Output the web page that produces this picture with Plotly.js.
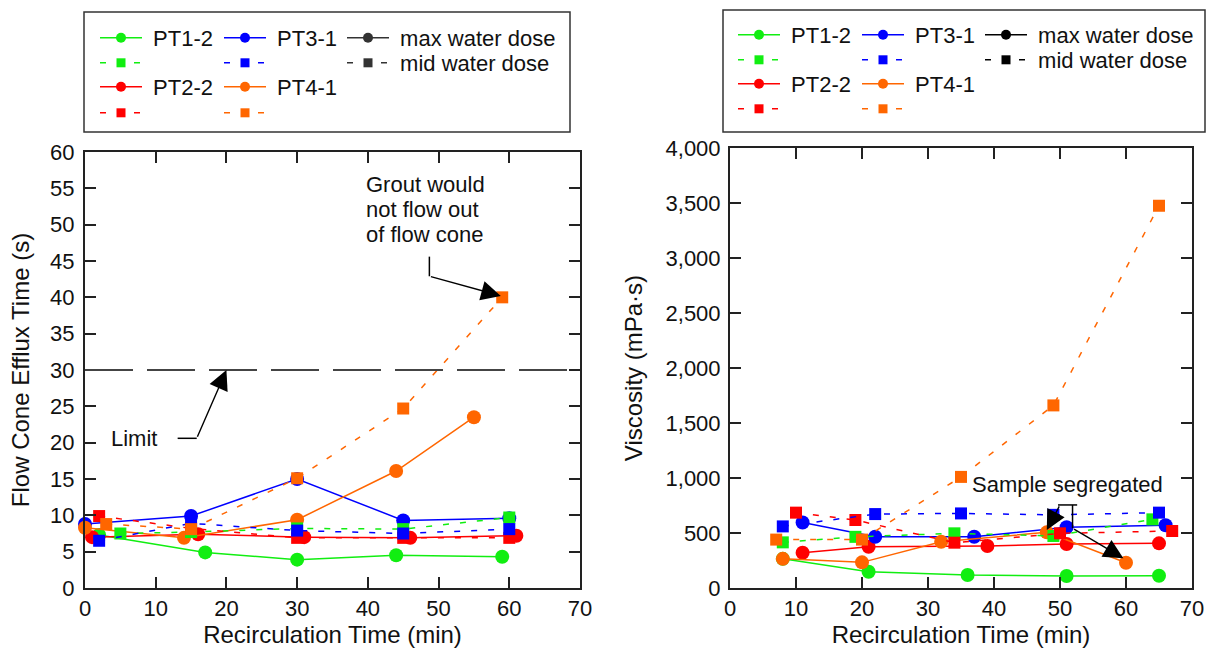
<!DOCTYPE html>
<html>
<head>
<meta charset="utf-8">
<script src="https://cdn.plot.ly/plotly-3.0.1.min.js"></script>
<style>html,body{margin:0;padding:0;background:#fff;}#chart{width:1209px;height:654px;}</style>
</head>
<body>
<div id="chart"></div>
<script>
// ---------- Left chart: Flow cone efflux time (s) ----------
const flow_PT12_max_t = [2, 17, 30, 44, 59];
const flow_PT12_max   = [7.3, 4.9, 3.9, 4.5, 4.3];
const flow_PT22_max_t = [1, 16, 31, 46, 61];
const flow_PT22_max   = [7.0, 7.4, 7.0, 6.9, 7.2];
const flow_PT31_max_t = [0, 15, 30, 45, 60];
const flow_PT31_max   = [8.8, 9.9, 15.0, 9.3, 9.6];
const flow_PT41_max_t = [0, 14, 30, 44, 55];
const flow_PT41_max   = [8.3, 6.9, 9.4, 16.1, 23.5];

const flow_PT12_mid_t = [5, 15, 30, 45, 60];
const flow_PT12_mid   = [7.5, 7.7, 8.2, 8.1, 9.7];
const flow_PT22_mid_t = [2, 15, 30, 45, 60];
const flow_PT22_mid   = [9.9, 8.2, 6.9, 6.9, 6.9];
const flow_PT31_mid_t = [2, 15, 30, 45, 60];
const flow_PT31_mid   = [6.5, 8.9, 7.9, 7.5, 8.1];
const flow_PT41_mid_t = [3, 15, 30, 45, 59];
const flow_PT41_mid   = [8.8, 8.1, 15.1, 24.7, 40.0];

const flowLimit = 30;

// ---------- Right chart: Viscosity (mPa·s) ----------
const visc_PT12_max_t = [8, 21, 36, 51, 65];
const visc_PT12_max   = [265, 148, 118, 109, 112];
const visc_PT22_max_t = [11, 21, 39, 51, 65];
const visc_PT22_max   = [320, 375, 382, 400, 406];
const visc_PT31_max_t = [11, 22, 37, 51, 66];
const visc_PT31_max   = [595, 466, 466, 552, 570];
const visc_PT41_max_t = [8, 20, 32, 48, 60];
const visc_PT41_max   = [265, 233, 421, 506, 230];

const visc_PT12_mid_t = [8, 19, 34, 49, 64];
const visc_PT12_mid   = [415, 465, 497, 473, 624];
const visc_PT22_mid_t = [10, 19, 34, 50, 67];
const visc_PT22_mid   = [685, 618, 412, 497, 518];
const visc_PT31_mid_t = [8, 22, 35, 49, 65];
const visc_PT31_mid   = [560, 672, 678, 665, 685];
const visc_PT41_mid_t = [7, 20, 35, 49, 65];
const visc_PT41_mid   = [440, 440, 1010, 1660, 3475];

const seriesNames = ['PT1-2', 'PT2-2', 'PT3-1', 'PT4-1'];
const doseNames = ['max water dose', 'mid water dose'];
const groutNote = ['Grout would', 'not flow out', 'of flow cone'];

// ---------- styling ----------
const FONT = 'Liberation Sans, Arial, Helvetica, sans-serif';
const C = {g: '#11ee11', r: '#ff0000', b: '#0000ff', o: '#ff6600'};
const DASH = '6px,11px';
const NB = '\u00a0';

const W = 1209, H = 654;
function px(X) { return X / W; }
function py(Y) { return 1 - Y / H; }

const legends = {};
let legendCount = 0;
function newLegend(X, Y) {
  legendCount += 1;
  const id = legendCount === 1 ? 'legend' : 'legend' + legendCount;
  legends[id] = {
    x: px(X), y: py(Y), xanchor: 'left', yanchor: 'middle', orientation: 'h',
    bgcolor: 'rgba(0,0,0,0)', borderwidth: 0, visible: true,
    font: {size: 22, family: FONT, color: '#111'},
    itemwidth: 42, itemsizing: 'trace', itemclick: false, itemdoubleclick: false
  };
  return id;
}

function tr(x, y, color, mid, xa, ya, name) {
  return {
    type: 'scatter', mode: 'lines+markers', x: x, y: y,
    xaxis: xa, yaxis: ya, cliponaxis: false, showlegend: false,
    name: name, hoverinfo: 'x+y+name',
    line: {color: color, width: 1.5, dash: mid ? DASH : 'solid'},
    marker: {color: color, size: mid ? 12 : 14, symbol: mid ? 'square' : 'circle'}
  };
}
// legend-only entry (no data of its own)
function key(color, mid, xa, ya, label, LX, LY) {
  return {
    type: 'scatter', mode: 'lines+markers', x: [null], y: [null],
    xaxis: xa, yaxis: ya, showlegend: true, hoverinfo: 'skip',
    name: label, legend: newLegend(LX, LY),
    line: {color: color, width: 1.5, dash: mid ? DASH : 'solid'},
    marker: {color: color, size: mid ? 9 : 10, symbol: mid ? 'square' : 'circle'}
  };
}

// legend grid (pixel positions of each entry)
const LC = [95, 219, 342], LR = [38, 63, 87, 113];
const RC = [733, 857, 980], RR = [35, 60, 84, 109];

const data = [
  // left (flow cone)
  tr(flow_PT12_max_t, flow_PT12_max, C.g, false, 'x', 'y', seriesNames[0] + ' max'),
  tr(flow_PT22_max_t, flow_PT22_max, C.r, false, 'x', 'y', seriesNames[1] + ' max'),
  tr(flow_PT31_max_t, flow_PT31_max, C.b, false, 'x', 'y', seriesNames[2] + ' max'),
  tr(flow_PT41_max_t, flow_PT41_max, C.o, false, 'x', 'y', seriesNames[3] + ' max'),
  tr(flow_PT12_mid_t, flow_PT12_mid, C.g, true, 'x', 'y', seriesNames[0] + ' mid'),
  tr(flow_PT22_mid_t, flow_PT22_mid, C.r, true, 'x', 'y', seriesNames[1] + ' mid'),
  tr(flow_PT31_mid_t, flow_PT31_mid, C.b, true, 'x', 'y', seriesNames[2] + ' mid'),
  tr(flow_PT41_mid_t, flow_PT41_mid, C.o, true, 'x', 'y', seriesNames[3] + ' mid'),
  // right (viscosity)
  tr(visc_PT12_max_t, visc_PT12_max, C.g, false, 'x2', 'y2', seriesNames[0] + ' max'),
  tr(visc_PT22_max_t, visc_PT22_max, C.r, false, 'x2', 'y2', seriesNames[1] + ' max'),
  tr(visc_PT31_max_t, visc_PT31_max, C.b, false, 'x2', 'y2', seriesNames[2] + ' max'),
  tr(visc_PT41_max_t, visc_PT41_max, C.o, false, 'x2', 'y2', seriesNames[3] + ' max'),
  tr(visc_PT12_mid_t, visc_PT12_mid, C.g, true, 'x2', 'y2', seriesNames[0] + ' mid'),
  tr(visc_PT22_mid_t, visc_PT22_mid, C.r, true, 'x2', 'y2', seriesNames[1] + ' mid'),
  tr(visc_PT31_mid_t, visc_PT31_mid, C.b, true, 'x2', 'y2', seriesNames[2] + ' mid'),
  tr(visc_PT41_mid_t, visc_PT41_mid, C.o, true, 'x2', 'y2', seriesNames[3] + ' mid'),
  // legend keys, left
  key(C.g, false, 'x', 'y', NB + seriesNames[0], LC[0], LR[0]),
  key(C.g, true,  'x', 'y', ' ', LC[0], LR[1]),
  key(C.r, false, 'x', 'y', NB + seriesNames[1], LC[0], LR[2]),
  key(C.r, true,  'x', 'y', ' ', LC[0], LR[3]),
  key(C.b, false, 'x', 'y', NB + seriesNames[2], LC[1], LR[0]),
  key(C.b, true,  'x', 'y', ' ', LC[1], LR[1]),
  key(C.o, false, 'x', 'y', NB + seriesNames[3], LC[1], LR[2]),
  key(C.o, true,  'x', 'y', ' ', LC[1], LR[3]),
  key('#333333', false, 'x', 'y', NB + doseNames[0], LC[2], LR[0]),
  key('#333333', true,  'x', 'y', NB + doseNames[1], LC[2], LR[1]),
  // legend keys, right
  key(C.g, false, 'x2', 'y2', NB + seriesNames[0], RC[0], RR[0]),
  key(C.g, true,  'x2', 'y2', ' ', RC[0], RR[1]),
  key(C.r, false, 'x2', 'y2', NB + seriesNames[1], RC[0], RR[2]),
  key(C.r, true,  'x2', 'y2', ' ', RC[0], RR[3]),
  key(C.b, false, 'x2', 'y2', NB + seriesNames[2], RC[1], RR[0]),
  key(C.b, true,  'x2', 'y2', ' ', RC[1], RR[1]),
  key(C.o, false, 'x2', 'y2', NB + seriesNames[3], RC[1], RR[2]),
  key(C.o, true,  'x2', 'y2', ' ', RC[1], RR[3]),
  key('#000000', false, 'x2', 'y2', NB + doseNames[0], RC[2], RR[0]),
  key('#000000', true,  'x2', 'y2', NB + doseNames[1], RC[2], RR[1])
];

function axisBase(extra) {
  return Object.assign({
    showgrid: false, zeroline: false, showline: true, linewidth: 2, linecolor: '#222',
    mirror: 'allticks', ticks: 'inside', ticklen: 11, tickwidth: 1.8, tickcolor: '#222',
    tickfont: {size: 22, family: FONT, color: '#111'}, fixedrange: true
  }, extra);
}
const TF = {size: 24, family: FONT, color: '#111'};
const AF = {size: 22, family: FONT, color: '#111'};
const ARW = {showarrow: true, arrowhead: 2, arrowsize: 2.8, arrowwidth: 1.4, arrowcolor: '#000', text: ''};

const layout = Object.assign({
  width: W, height: H, margin: {l: 0, r: 0, t: 0, b: 0},
  showlegend: true,
  paper_bgcolor: '#fff', plot_bgcolor: '#fff',
  font: {family: FONT, color: '#111'},
  xaxis: axisBase({domain: [px(85), px(580)], range: [0, 70], dtick: 10, anchor: 'y',
    title: {text: 'Recirculation Time (min)', font: TF, standoff: 2}}),
  yaxis: axisBase({domain: [py(588), py(152)], range: [0, 60], dtick: 5, anchor: 'x',
    ticklabelstandoff: 4,
    title: {text: 'Flow Cone Efflux Time (s)', font: TF, standoff: 14}}),
  xaxis2: axisBase({domain: [px(730), px(1192)], range: [0, 70], dtick: 10, anchor: 'y2',
    title: {text: 'Recirculation Time (min)', font: TF, standoff: 2}}),
  yaxis2: axisBase({domain: [py(588), py(148)], range: [0, 4000], dtick: 500, anchor: 'x2',
    tickformat: ',d', ticklabelstandoff: 3,
    title: {text: 'Viscosity (mPa·s)', font: TF, standoff: 16}}),
  shapes: [
    // legend frames
    {type: 'rect', xref: 'paper', yref: 'paper', x0: px(84), x1: px(570), y0: py(132), y1: py(12),
     line: {color: '#333', width: 1.5}},
    {type: 'rect', xref: 'paper', yref: 'paper', x0: px(723), x1: px(1205), y0: py(132), y1: py(10),
     line: {color: '#333', width: 1.5}},
    // limit line
    {type: 'line', xref: 'x', yref: 'y', x0: 0, x1: 70, y0: flowLimit, y1: flowLimit,
     line: {color: '#444', width: 2, dash: '48px,14px'}},
    // leader segments
    {type: 'line', xref: 'x', yref: 'y', x0: 13.1, x1: 15.8, y0: 20.6, y1: 20.6, line: {color: '#000', width: 1.5}},
    {type: 'line', xref: 'x', yref: 'y', x0: 48.7, x1: 48.7, y0: 45.6, y1: 42.9, line: {color: '#000', width: 1.5}},
    {type: 'line', xref: 'x2', yref: 'y2', x0: 49.7, x1: 52.6, y0: 755, y1: 755, line: {color: '#000', width: 1.5}},
    {type: 'line', xref: 'x2', yref: 'y2', x0: 51.9, x1: 51.9, y0: 755, y1: 543, line: {color: '#000', width: 1.5}}
  ],
  annotations: [
    {xref: 'x', yref: 'y', x: 6.9, y: 20.6, text: 'Limit', showarrow: false, font: AF},
    Object.assign({xref: 'x', yref: 'y', x: 20, y: flowLimit, axref: 'x', ayref: 'y', ax: 15.8, ay: 20.6}, ARW),
    {xref: 'x', yref: 'y', x: 39.5, y: 55.55, xanchor: 'left', yanchor: 'middle', text: groutNote[0], showarrow: false, font: AF},
    {xref: 'x', yref: 'y', x: 39.5, y: 52.1, xanchor: 'left', yanchor: 'middle', text: groutNote[1], showarrow: false, font: AF},
    {xref: 'x', yref: 'y', x: 39.5, y: 48.65, xanchor: 'left', yanchor: 'middle', text: groutNote[2], showarrow: false, font: AF},
    Object.assign({xref: 'x', yref: 'y', x: 58.8, y: 40.2, axref: 'x', ayref: 'y', ax: 48.7, ay: 42.9}, ARW),
    {xref: 'x2', yref: 'y2', x: 51.2, y: 940, text: 'Sample segregated', showarrow: false, font: AF},
    Object.assign({xref: 'x2', yref: 'y2', x: 48.0, y: 527, axref: 'x2', ayref: 'y2', ax: 50.0, ay: 755}, ARW),
    Object.assign({xref: 'x2', yref: 'y2', x: 59.6, y: 270, axref: 'x2', ayref: 'y2', ax: 51.9, ay: 543}, ARW)
  ]
}, legends);

Plotly.newPlot('chart', data, layout, {displayModeBar: false});
</script>
</body>
</html>
